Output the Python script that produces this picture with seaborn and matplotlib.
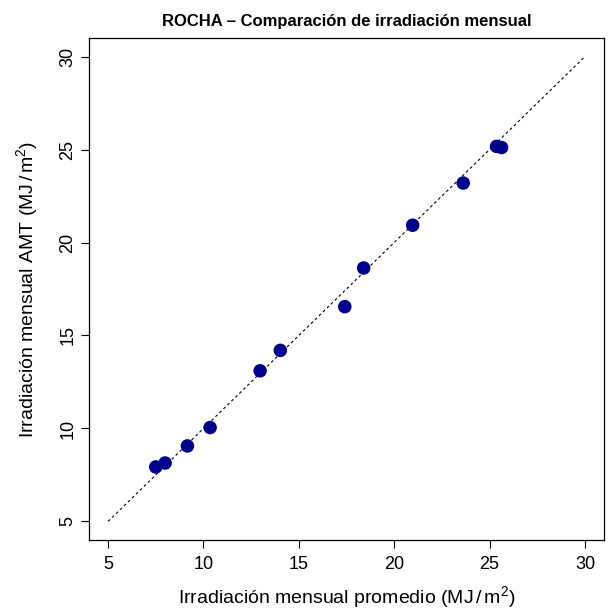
import numpy as np
import pandas as pd
import seaborn as sns
import matplotlib.pyplot as plt

# Monthly irradiation (MJ/m2): average vs AMT
promedio = [7.50, 7.99, 9.16, 10.35, 12.97, 14.03, 17.41, 18.40, 20.97, 23.62, 25.37, 25.63]
amt = [7.93, 8.14, 9.06, 10.05, 13.10, 14.20, 16.55, 18.63, 20.93, 23.20, 25.17, 25.11]
ref_line = [5, 30]
ticks = [5, 10, 15, 20, 25, 30]

df = pd.DataFrame({'promedio': promedio, 'amt': amt})

sns.set_style("white")
plt.rcParams['font.family'] = ['Liberation Sans', 'DejaVu Sans']
plt.rcParams['mathtext.fontset'] = 'custom'
plt.rcParams['mathtext.rm'] = 'Liberation Sans'
plt.rcParams['mathtext.it'] = 'Liberation Sans:italic'
plt.rcParams['text.color'] = 'black'
plt.rcParams['axes.labelcolor'] = 'black'
plt.rcParams['xtick.color'] = 'black'
plt.rcParams['ytick.color'] = 'black'

fig = plt.figure(figsize=(6.08, 6.11), dpi=100)
ax = fig.add_axes([0.1464, 0.1162, 0.847, 0.8216])

# reference 1:1 line
ax.plot(ref_line, ref_line, color='black', linestyle=(0, (2.5, 2.5)), linewidth=0.8, zorder=1)

sns.scatterplot(data=df, x='promedio', y='amt', color='#00008B', s=95,
                edgecolor='none', ax=ax, zorder=2)

ax.set_xlim(4, 31)
ax.set_ylim(4, 31)
ax.set_xticks(ticks)
ax.set_yticks(ticks)
ax.set_yticklabels([str(t) for t in ticks], rotation=90, va='center')
ax.tick_params(direction='out', length=6, width=0.8, labelsize=13,
               bottom=True, left=True)
ax.tick_params(axis='x', pad=5.5)
ax.tick_params(axis='y', pad=3)

for s in ax.spines.values():
    s.set_linewidth(0.9)
    s.set_color('black')

ax.set_title('ROCHA – Comparación de irradiación mensual', fontsize=12,
             fontweight='bold', pad=9)
ax.set_xlabel(r'Irradiación mensual promedio (MJ$\,/\,$m$^2$)', fontsize=14, labelpad=8)
ax.set_ylabel(r'Irradiación mensual AMT (MJ$\,/\,$m$^2$)', fontsize=14, labelpad=14)

plt.savefig('out.png', dpi=100)
